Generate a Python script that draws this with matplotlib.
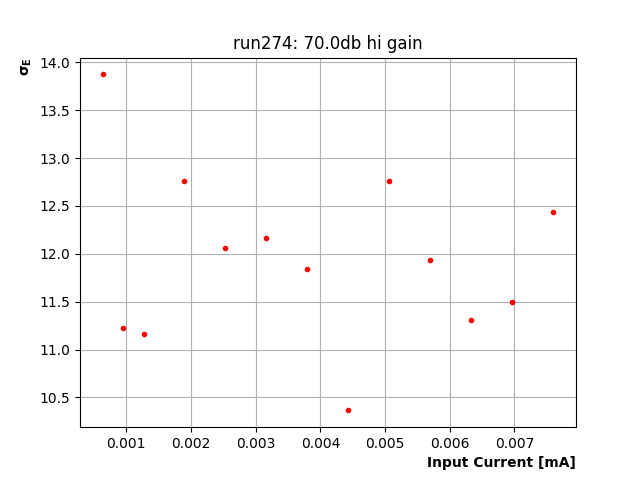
import numpy as np
import matplotlib
matplotlib.use("Agg")
import matplotlib.pyplot as plt

# input current [mA] and energy resolution values
current = [0.000634, 0.000950, 0.001267, 0.001900, 0.002534, 0.003167, 0.003801,
           0.004434, 0.005068, 0.005701, 0.006335, 0.006968, 0.007602]
sigma_e = [13.875, 11.22, 11.16, 12.757, 12.056, 12.17, 11.837,
           10.364, 12.757, 11.94, 11.31, 11.50, 12.44]

fig, ax = plt.subplots(figsize=(6.4, 4.8), dpi=100)
ax.plot(current, sigma_e, '.', color='red')
ax.grid(True)
ax.set_axisbelow(True)
ax.set_title('run274: 70.0db hi gain')
ax.set_xlabel('Input Current [mA]', loc='right', fontweight='bold')
ax.set_ylabel(r'$\mathbf{\sigma_E}$', loc='top', fontweight='bold')
fig.savefig('out.png')
